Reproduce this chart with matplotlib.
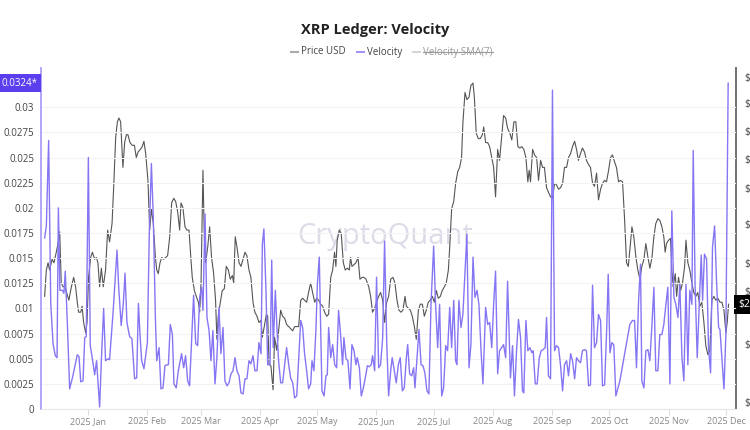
import matplotlib
matplotlib.use('Agg')
import matplotlib.pyplot as plt
import matplotlib.dates as mdates
from matplotlib.lines import Line2D
from matplotlib.ticker import FuncFormatter, NullLocator, FixedLocator
from matplotlib.transforms import IdentityTransform
import numpy as np
import pandas as pd

plt.rcParams['font.family'] = ['Open Sans', 'DejaVu Sans']

# days counted from 2025-01-01
vel_days = [
    -22.7, -21.8, -20.6, -19.5, -18.3, -17.1, -16.2, -15.5, -14.7, -13.4,
    -12.6, -11.9, -10.8, -9.6, -7.9, -6.6, -5.6, -4.7, -3.8, -2.6,
    -1.7, -0.9, 0.2, 1.2, 2.3, 3.5, 4.5, 6.1, 7.0, 8.2,
    9.2, 10.5, 11.3, 13.1, 15.2, 16.1, 17.4, 18.5, 19.4, 20.4,
    21.8, 23.0, 24.4, 25.5, 26.4, 27.2, 28.1, 29.3, 31.1, 32.1,
    33.2, 34.2, 35.3, 36.0, 37.2, 38.2, 39.3, 40.3, 41.4, 42.1,
    43.1, 44.2, 45.0, 46.2, 47.3, 48.3, 49.0, 50.1, 51.1, 52.2,
    53.2, 54.3, 55.3, 56.4, 57.4, 58.5, 59.5, 60.2, 61.3, 62.3,
    63.4, 64.4, 65.4, 66.5, 67.5, 68.6, 69.6, 70.7, 71.7, 72.8,
    73.8, 74.9, 75.9, 77.0, 78.0, 79.1, 80.1, 81.2, 82.2, 83.2,
    84.3, 85.3, 86.4, 87.4, 88.5, 89.5, 90.6, 91.3, 92.1, 93.2,
    94.1, 95.3, 96.2, 97.0, 98.1, 99.0, 99.8, 100.9, 101.9, 103.0,
    104.0, 105.1, 106.1, 107.2, 108.2, 109.3, 110.3, 111.4, 112.4, 113.4,
    114.5, 115.5, 116.6, 117.3, 118.3, 119.4, 120.1, 121.1, 121.8, 122.5,
    123.6, 124.6, 125.3, 126.0, 127.1, 128.1, 129.2, 130.2, 131.2, 132.3,
    133.3, 134.0, 135.1, 136.1, 137.2, 138.2, 139.3, 140.3, 141.0, 142.1,
    143.1, 144.2, 145.2, 146.3, 147.3, 148.3, 149.0, 150.1, 151.1, 152.2,
    153.2, 154.3, 155.3, 156.4, 157.4, 158.5, 159.3, 160.4, 161.4, 162.5,
    163.5, 164.6, 165.6, 166.7, 167.4, 168.4, 169.5, 170.5, 171.2, 172.3,
    173.3, 174.4, 175.4, 176.4, 177.5, 178.5, 179.6, 181.0, 182.0, 183.1,
    184.1, 185.2, 186.2, 187.3, 188.3, 189.4, 190.4, 191.5, 192.5, 193.2,
    194.2, 195.3, 196.3, 197.4, 198.4, 199.5, 200.5, 201.6, 202.6, 203.7,
    204.7, 205.8, 206.8, 208.2, 209.3, 210.3, 211.4, 212.4, 213.4, 214.5,
    215.5, 216.6, 217.6, 218.7, 219.7, 221.2, 222.3, 223.3, 224.4, 225.4,
    226.5, 227.5, 228.2, 229.3, 230.3, 231.4, 232.4, 233.1, 234.2, 235.2,
    236.3, 237.3, 238.3, 239.4, 240.1, 241.1, 242.2, 243.2, 244.3, 245.3,
    246.4, 247.4, 248.5, 249.5, 250.6, 251.6, 252.7, 253.7, 254.8, 255.8,
    256.8, 257.9, 258.9, 260.0, 261.0, 262.1, 263.1, 264.2, 265.2, 266.3,
    267.3, 268.4, 269.4, 270.5, 271.5, 272.4, 273.3, 274.3, 275.3, 276.4,
    278.5, 283.7, 285.1, 286.2, 287.2, 288.3, 289.3, 290.0, 291.1, 292.1,
    293.2, 294.2, 295.3, 296.3, 297.3, 298.4, 299.4, 300.5, 301.5, 302.6,
    303.6, 304.7, 305.7, 306.8, 307.8, 308.9, 309.9, 311.0, 312.0, 313.1,
    314.1, 315.1, 316.2, 316.9, 317.9, 319.0, 320.0, 321.1, 321.8, 322.8,
    323.9, 324.9, 326.0, 327.0, 328.1, 329.1, 330.2, 330.9, 331.9, 333.0,
    334.0, 335.2,
]
velocity = [
    .0170, .0182, .0267, .0105, .0065, .0053, .0051, .0200, .0118, .0118,
    .0115, .0137, .0085, .0020, .0033, .0045, .0054, .0052, .0027, .0028,
    .0071, .0072, .0250, .0063, .0050, .0034, .0048, .0002, .0048, .0100,
    .0048, .0050, .0049, .0095, .0158, .0120, .0083, .0105, .0135, .0086,
    .0072, .0070, .0030, .0031, .0105, .0075, .0048, .0040, .0066, .0175,
    .0244, .0190, .0090, .0048, .0061, .0020, .0021, .0043, .0044, .0044,
    .0084, .0074, .0025, .0021, .0038, .0048, .0055, .0041, .0053, .0028,
    .0023, .0071, .0113, .0065, .0063, .0111, .0121, .0098, .0194, .0091,
    .0078, .0048, .0078, .0025, .0051, .0101, .0055, .0081, .0028, .0023,
    .0026, .0035, .0038, .0051, .0038, .0033, .0016, .0015, .0030, .0030,
    .0048, .0045, .0053, .0038, .0038, .0066, .0055, .0164, .0179, .0118,
    .0044, .0044, .0148, .0061, .0118, .0078, .0048, .0026, .0026, .0044,
    .0061, .0044, .0031, .0026, .0011, .0013, .0048, .0088, .0081, .0055,
    .0038, .0020, .0025, .0048, .0038, .0081, .0124, .0151, .0084, .0018,
    .0013, .0033, .0034, .0081, .0051, .0064, .0044, .0041, .0098, .0073,
    .0044, .0071, .0050, .0048, .0020, .0064, .0058, .0044, .0051, .0041,
    .0013, .0021, .0031, .0043, .0042, .0044, .0053, .0038, .0131, .0041,
    .0044, .0071, .0167, .0068, .0013, .0038, .0051, .0038, .0026, .0044,
    .0051, .0018, .0021, .0051, .0064, .0035, .0033, .0041, .0021, .0051,
    .0079, .0044, .0043, .0036, .0018, .0015, .0104, .0162, .0104, .0061,
    .0104, .0013, .0021, .0063, .0058, .0101, .0061, .0108, .0048, .0044,
    .0108, .0081, .0094, .0137, .0174, .0041, .0064, .0151, .0111, .0118,
    .0104, .0058, .0025, .0101, .0084, .0086, .0061, .0104, .0137, .0035,
    .0058, .0061, .0064, .0051, .0127, .0031, .0063, .0013, .0058, .0089,
    .0071, .0018, .0016, .0088, .0058, .0061, .0056, .0058, .0025, .0025,
    .0051, .0058, .0059, .0061, .0091, .0033, .0030, .0317, .0058, .0063,
    .0061, .0044, .0018, .0044, .0048, .0033, .0055, .0048, .0030, .0051,
    .0048, .0046, .0058, .0059, .0058, .0023, .0024, .0123, .0061, .0066,
    .0094, .0088, .0023, .0024, .0074, .0134, .0056, .0066, .0064, .0013,
    .0028, .0084, .0088, .0088, .0041, .0108, .0144, .0028, .0021, .0058,
    .0059, .0048, .0084, .0121, .0038, .0038, .0074, .0074, .0084, .0104,
    .0121, .0025, .0197, .0111, .0104, .0091, .0124, .0051, .0028, .0124,
    .0044, .0118, .0104, .0257, .0121, .0051, .0101, .0153, .0108, .0154,
    .0149, .0061, .0036, .0161, .0182, .0128, .0081, .0079, .0051, .0020,
    .0074, .0324,
]

price_days = [
    -22.7, -21.8, -20.9, -20.1, -18.8, -17.8, -16.6, -15.7, -14.8, -14.0,
    -13.1, -12.2, -11.2, -10.0, -8.7, -7.5, -6.5, -5.6, -4.9, -3.8,
    -3.1, -2.3, -1.2, -0.5, 0.3, 1.4, 2.3, 3.5, 4.4, 5.2,
    6.1, 7.0, 8.0, 9.2, 10.3, 11.3, 12.6, 13.6, 14.5, 15.4,
    16.2, 17.1, 18.3, 19.2, 20.1, 20.9, 22.0, 23.2, 24.3, 25.3,
    26.2, 27.4, 28.4, 29.3, 30.2, 31.4, 32.3, 33.2, 34.2, 35.3,
    36.0, 36.8, 37.7, 38.6, 39.6, 40.7, 41.7, 42.8, 43.8, 44.9,
    45.9, 47.0, 48.0, 48.7, 49.7, 50.8, 51.8, 52.9, 53.9, 54.6,
    55.7, 56.7, 57.8, 58.5, 59.2, 60.2, 60.9, 61.6, 62.7, 63.7,
    64.7, 65.8, 66.8, 67.5, 68.2, 69.3, 70.3, 71.4, 72.4, 73.5,
    74.5, 75.6, 76.3, 77.1, 78.0, 79.1, 80.1, 81.2, 82.2, 83.2,
    84.3, 85.3, 86.4, 87.4, 88.5, 89.5, 90.6, 91.3, 92.3, 93.4,
    94.1, 94.8, 95.8, 96.9, 97.7, 98.8, 99.8, 100.9, 101.9, 103.0,
    104.0, 105.1, 106.1, 107.2, 108.2, 109.3, 110.3, 111.4, 112.4, 113.4,
    114.5, 115.5, 116.6, 117.6, 118.7, 119.7, 120.8, 121.8, 122.9, 123.9,
    125.0, 126.0, 127.1, 128.1, 129.1, 129.8, 130.5, 131.6, 132.6, 133.7,
    134.7, 135.8, 136.8, 137.5, 138.2, 139.3, 140.3, 141.4, 142.4, 143.5,
    144.5, 145.6, 147.0, 148.0, 149.0, 150.1, 151.1, 152.2, 153.2, 154.3,
    155.3, 156.4, 157.4, 158.5, 159.7, 160.7, 161.8, 162.8, 163.9, 164.9,
    166.0, 166.7, 167.7, 168.8, 169.8, 170.9, 171.9, 173.0, 174.0, 175.1,
    176.1, 177.1, 178.2, 179.2, 180.3, 181.3, 182.4, 183.4, 184.5, 185.5,
    186.6, 187.6, 188.7, 189.4, 190.4, 191.5, 192.5, 193.6, 194.6, 195.6,
    196.3, 197.4, 198.4, 199.5, 200.5, 201.6, 202.3, 203.3, 204.4, 205.4,
    206.5, 207.2, 208.2, 209.3, 210.3, 211.4, 212.4, 213.4, 214.5, 215.5,
    216.6, 217.6, 218.7, 219.7, 220.9, 221.9, 223.0, 224.0, 225.1, 226.1,
    227.2, 228.2, 229.3, 230.3, 231.0, 231.7, 232.8, 233.8, 234.9, 235.9,
    237.0, 238.0, 239.0, 240.1, 241.1, 242.2, 243.2, 244.3, 245.3, 246.4,
    247.4, 248.5, 249.5, 250.6, 251.6, 252.7, 253.7, 254.8, 255.8, 256.8,
    257.9, 258.9, 260.0, 261.0, 262.1, 263.1, 264.2, 265.2, 266.3, 267.3,
    268.4, 269.4, 270.5, 271.5, 272.6, 273.6, 274.6, 275.7, 276.7, 277.8,
    278.8, 279.9, 280.9, 282.0, 282.9, 283.7, 284.8, 285.8, 286.9, 287.9,
    289.0, 290.0, 291.1, 292.1, 293.2, 294.2, 295.3, 296.3, 297.3, 298.4,
    299.4, 300.5, 301.5, 302.2, 302.9, 304.0, 305.0, 305.7, 306.4, 307.5,
    308.2, 309.2, 310.3, 311.3, 312.4, 313.1, 314.1, 315.1, 316.2, 317.2,
    318.3, 319.3, 320.4, 321.4, 322.5, 323.5, 324.6, 325.6, 326.7, 327.7,
    328.8, 329.8, 330.9, 331.9, 333.0, 334.0, 334.7, 335.4,
]
price_usd = [
    2.11, 2.25, 2.29, 2.25, 2.31, 2.29, 2.35, 2.40, 2.47, 2.18,
    2.16, 2.16, 2.13, 2.09, 2.16, 2.21, 2.16, 2.08, 2.03, 2.03,
    2.06, 1.98, 1.93, 1.98, 2.21, 2.32, 2.35, 2.31, 2.32, 2.29,
    2.16, 2.26, 2.16, 2.25, 2.48, 2.41, 2.52, 2.80, 3.11, 3.23,
    3.26, 3.23, 2.89, 3.07, 3.13, 3.13, 3.07, 3.05, 3.05, 2.96,
    3.00, 3.02, 3.04, 3.08, 2.99, 2.80, 2.48, 2.61, 2.52, 2.32,
    2.25, 2.23, 2.29, 2.32, 2.31, 2.32, 2.33, 2.44, 2.65, 2.68,
    2.66, 2.59, 2.48, 2.65, 2.62, 2.50, 2.48, 2.48, 2.31, 2.21,
    2.14, 2.11, 2.08, 2.03, 2.18, 2.87, 2.44, 2.29, 2.38, 2.50,
    2.32, 2.23, 2.09, 1.90, 2.01, 2.08, 2.14, 2.15, 2.27, 2.25,
    2.20, 2.22, 2.18, 2.44, 2.38, 2.29, 2.27, 2.31, 2.35, 2.33,
    2.25, 2.21, 2.08, 2.03, 2.01, 1.98, 1.99, 1.91, 1.96, 2.02,
    2.01, 1.79, 1.78, 1.68, 1.91, 1.85, 1.94, 2.04, 2.01, 2.00,
    1.97, 1.96, 1.95, 1.94, 1.96, 1.96, 1.96, 2.09, 2.10, 2.09,
    2.08, 2.13, 2.18, 2.13, 2.08, 2.10, 2.09, 2.07, 2.06, 2.03,
    2.01, 2.02, 2.21, 2.25, 2.35, 2.27, 2.42, 2.48, 2.46, 2.29,
    2.25, 2.26, 2.25, 2.32, 2.27, 2.28, 2.29, 2.32, 2.20, 2.21,
    2.21, 2.20, 2.16, 2.11, 2.03, 2.05, 2.08, 2.11, 2.13, 2.09,
    1.98, 2.08, 2.11, 2.20, 2.21, 2.18, 2.09, 2.04, 2.03, 2.04,
    2.11, 2.06, 2.05, 2.04, 2.01, 1.96, 1.90, 2.04, 2.07, 2.07,
    2.01, 2.04, 2.08, 2.09, 2.11, 2.08, 2.14, 2.10, 2.11, 2.14,
    2.16, 2.18, 2.25, 2.38, 2.61, 2.66, 2.78, 2.86, 2.89, 2.96,
    3.22, 3.47, 3.41, 3.43, 3.53, 3.55, 3.43, 3.14, 3.10, 3.10,
    3.13, 3.19, 3.07, 3.07, 3.04, 2.96, 2.89, 2.69, 3.02, 2.94,
    3.11, 3.28, 3.26, 3.18, 3.14, 3.09, 3.23, 3.23, 3.04, 3.03,
    3.04, 3.02, 2.96, 2.79, 2.87, 2.79, 3.02, 2.98, 2.96, 2.80,
    2.94, 2.89, 2.89, 2.75, 2.72, 2.69, 2.68, 2.78, 2.77, 2.74,
    2.75, 2.78, 2.89, 2.89, 2.96, 2.99, 3.04, 3.08, 3.02, 2.94,
    2.99, 3.03, 3.00, 2.94, 2.91, 2.89, 2.78, 2.76, 2.85, 2.67,
    2.74, 2.78, 2.80, 2.79, 2.87, 2.96, 2.98, 2.93, 2.89, 2.79,
    2.80, 2.79, 2.56, 2.29, 2.27, 2.36, 2.50, 2.44, 2.32, 2.25,
    2.20, 2.27, 2.31, 2.40, 2.32, 2.26, 2.32, 2.44, 2.52, 2.55,
    2.54, 2.50, 2.44, 2.35, 2.40, 2.42, 2.43, 2.25, 2.16, 2.23,
    2.11, 2.21, 2.14, 2.18, 2.27, 2.42, 2.29, 2.25, 2.18, 2.13,
    2.11, 2.13, 2.06, 2.08, 1.98, 1.87, 1.83, 1.85, 2.09, 2.11,
    2.09, 2.10, 2.08, 2.08, 2.04, 1.93, 1.98, 2.07,
]

vel_ticks = [0, 0.0025, 0.005, 0.0075, 0.01, 0.0125, 0.015, 0.0175,
             0.02, 0.0225, 0.025, 0.0275, 0.03]
price_ticks = [1.63, 1.88, 2.14, 2.29, 2.52, 2.75, 2.95, 3.16, 3.38, 3.6]

assert len(vel_days) == len(velocity)
assert len(price_days) == len(price_usd)

base = pd.Timestamp('2025-01-01')
vel_dates = base + pd.to_timedelta(vel_days, unit='D')
price_dates = base + pd.to_timedelta(price_days, unit='D')

VEL_COLOR = '#8576f3'
fig = plt.figure(figsize=(7.5, 4.3), dpi=100)
ax = fig.add_axes([41 / 750, 1 - 409 / 430, 695 / 750, 341 / 430])
ax2 = ax.twinx()
ax.set_zorder(ax2.get_zorder() + 1)
ax.patch.set_visible(False)

# price on the right (log) axis
ax2.plot(price_dates, price_usd, color='#555555', lw=0.8)
ax2.set_yscale('log')
ax2.set_ylim(1.603, 3.683)
ax2.yaxis.set_major_locator(FixedLocator(price_ticks))
ax2.yaxis.set_minor_locator(NullLocator())
ax2.yaxis.set_major_formatter(FuncFormatter(lambda v, p: f'${v:.2f}'))
ax2.tick_params(axis='y', length=0, pad=6, labelsize=7.5, labelcolor='#444444')
for s in ['top', 'left', 'bottom']:
    ax2.spines[s].set_visible(False)
ax2.spines['right'].set_color('#666666')
ax2.spines['right'].set_linewidth(1.3)

ax2.text(0.495, 0.505, 'CryptoQuant', transform=ax2.transAxes, ha='center',
         va='center', fontsize=21, color='#dcdce8', zorder=0)

# velocity on the left axis
ax.plot(vel_dates, velocity, color=VEL_COLOR, lw=1.0)
ax.set_ylim(0, 0.0339)
ax.set_yticks(vel_ticks)
ax.yaxis.set_major_formatter(FuncFormatter(lambda v, p: f'{v:g}'))
ax.tick_params(axis='y', length=0, pad=5, labelsize=7, labelcolor='#444444')
ax.grid(axis='y', color='#f3f3f3', lw=0.8)
ax.set_axisbelow(True)

ax.set_xlim(base - pd.Timedelta(days=24.6), base + pd.Timedelta(days=339.3))
ax.xaxis.set_major_locator(mdates.MonthLocator(bymonthday=1))
ax.xaxis.set_major_formatter(mdates.DateFormatter('%Y %b'))
ax.tick_params(axis='x', length=4, color='#dddddd', labelsize=6.5,
               labelcolor='#888888', pad=2)

for s in ['top', 'right']:
    ax.spines[s].set_visible(False)
ax.spines['left'].set_color('#a396f7')
ax.spines['left'].set_linewidth(1.2)
ax.spines['bottom'].set_color('#e6e6e6')

# last value flags
ax.annotate(f'{velocity[-1]}*', xy=(0, velocity[-1]),
            xycoords=('axes fraction', 'data'), xytext=(-2.5, 0),
            textcoords='offset points', ha='right', va='center',
            fontsize=7, color='white',
            bbox=dict(boxstyle='square,pad=0.4', fc='#5b3fee', ec='none'))
ax2.annotate(f'${price_usd[-1]:.2f}', xy=(1, price_usd[-1]),
             xycoords=('axes fraction', 'data'), xytext=(1.5, 0),
             textcoords='offset points', ha='left', va='center',
             fontsize=7.5, color='white',
             bbox=dict(boxstyle='square,pad=0.4', fc='black', ec='none'))

# title and legend
fig.text(0.5, 1 - 30 / 430, 'XRP Ledger: Velocity', ha='center', va='center',
         fontsize=10.5, weight='bold', color='#222222')

legend_y = 1 - 52 / 430
items = [('Price USD', '#aaaaaa', '#444444'),
         ('Velocity', '#a396f7', '#444444'),
         ('Velocity SMA(7)', '#d5d5d5', '#9a9a9a')]
texts = []
for label, lc, tc in items:
    texts.append(fig.text(0, legend_y, label, ha='left', va='center',
                          fontsize=7, color=tc))
fig.canvas.draw()
widths = [t.get_window_extent().width for t in texts]
mark_w, mark_gap, item_gap = 7, 3, 11
total = sum(mark_w + mark_gap + w for w in widths) + item_gap * (len(items) - 1)
px = 392 - total / 2
for (label, lc, tc), t, w in zip(items, texts, widths):
    fig.add_artist(Line2D([px / 750, (px + mark_w) / 750], [legend_y, legend_y],
                          transform=fig.transFigure, color=lc, lw=1.5))
    t.set_x((px + mark_w + mark_gap) / 750)
    px += mark_w + mark_gap + w + item_gap

fig.canvas.draw()
bb = texts[2].get_window_extent()
mid = (bb.y0 + bb.y1) / 2
fig.add_artist(Line2D([bb.x0, bb.x1], [mid, mid], transform=IdentityTransform(),
                      color='#9a9a9a', lw=0.8))

fig.savefig('out.png', dpi=100, facecolor='white')
